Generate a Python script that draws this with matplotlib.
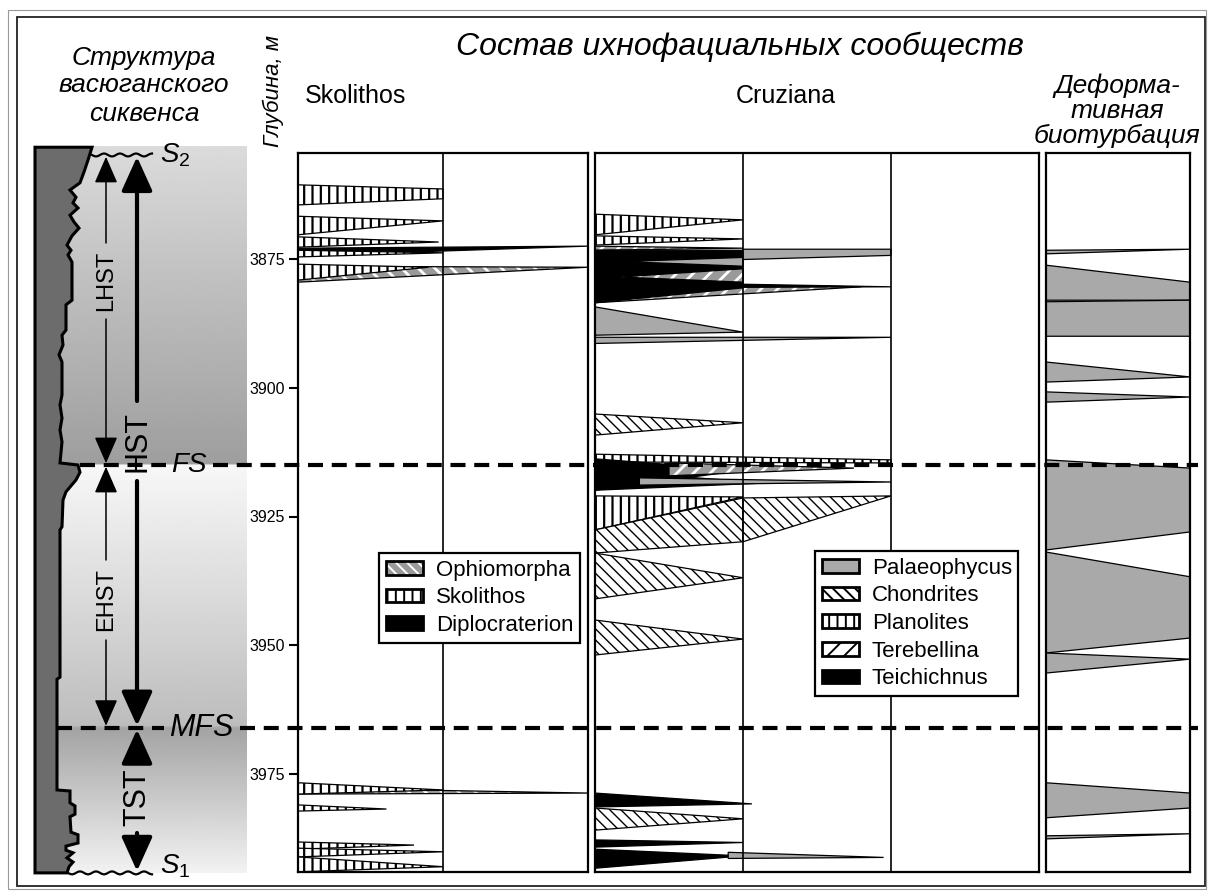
import numpy as np
import matplotlib
matplotlib.use('Agg')
import matplotlib.pyplot as plt
from matplotlib.patches import Polygon, Patch, Rectangle
from matplotlib.legend_handler import HandlerTuple
from matplotlib import font_manager

plt.rcParams['font.family'] = ['Liberation Sans', 'DejaVu Sans']
plt.rcParams['hatch.linewidth'] = 1.4
plt.rcParams['mathtext.fontset'] = 'custom'
plt.rcParams['mathtext.it'] = 'Liberation Sans:italic'
plt.rcParams['mathtext.rm'] = 'Liberation Sans'

# ---------------- data ----------------
depth_ticks = [3875, 3900, 3925, 3950, 3975]
surface_names = ['S2', 'FS', 'MFS', 'S1']
surface_depths = [3854.8, 3915.0, 3966.0, 3994.2]

tract_names = ['LHST', 'EHST', 'HST', 'TST']
tract_tops = [3854.8, 3915.0, 3854.8, 3966.0]
tract_bottoms = [3915.0, 3966.0, 3966.0, 3994.2]

# lithology (grain-size) curve of the sequence
log_depth = [3853.3, 3855.8, 3858.1, 3860.2, 3861.6, 3863.0, 3864.1, 3865.1, 3866.5, 3867.8,
             3869.0, 3870.5, 3872.3, 3873.3, 3874.2, 3875.6, 3883.0, 3883.9, 3888.8, 3889.8,
             3891.7, 3893.6, 3895.0, 3901.4, 3903.3, 3905.9, 3908.2, 3910.5, 3914.6, 3915.0,
             3916.4, 3917.9, 3920.2, 3921.8, 3927.0, 3927.6, 3956.2, 3956.6, 3978.1, 3978.3,
             3980.6, 3981.2, 3982.8, 3983.3, 3986.3, 3986.8, 3988.4, 3989.0, 3989.8, 3990.3,
             3991.3, 3992.1, 3993.0, 3994.2]
log_size = [92, 88, 84, 80, 70, 76, 73, 78, 70, 74,
            79, 72, 67, 71, 68, 72, 72, 66, 66, 62,
            63, 59, 62, 62, 60, 62, 60, 62, 60, 78,
            80, 76, 66, 63, 62, 60, 60, 57, 57, 70,
            70, 75, 75, 70, 71, 78, 78, 66, 66, 73,
            67, 73, 69, 67]

# Skolithos ichnofacies: wedge = (taxon, x0, top0, bottom0, x1, top1, bottom1)
sk_taxon = ['Skolithos', 'Skolithos', 'Skolithos', 'Diplocraterion', 'Skolithos', 'Ophiomorpha',
            'Skolithos', 'Ophiomorpha', 'Skolithos', 'Skolithos', 'Skolithos', 'Skolithos', 'Skolithos']
sk_x0 = [0, 0, 0, 0, 0, 0, 0, 0, 0, 0, 0, 0, 0]
sk_top0 = [3860.6, 3866.7, 3870.7, 3872.9, 3873.3, 3876.4, 3876.0, 3977.7, 3976.7, 3981.0, 3988.2, 3989.4, 3991.1]
sk_bot0 = [3864.5, 3870.3, 3872.7, 3874.4, 3874.6, 3879.5, 3879.1, 3978.9, 3978.9, 3982.2, 3989.6, 3991.1, 3994.0]
sk_x1 = [1.0, 1.0, 0.97, 2.0, 1.0, 2.0, 0.9, 2.0, 1.0, 0.61, 0.8, 1.0, 1.0]
sk_top1 = [3861.4, 3867.6, 3871.7, 3872.5, 3873.8, 3876.6, 3876.6, 3978.7, 3978.1, 3981.8, 3988.8, 3990.1, 3993.0]
sk_bot1 = [3863.3, 3867.6, 3871.7, 3872.5, 3873.8, 3876.6, 3876.6, 3978.7, 3978.1, 3981.8, 3988.8, 3990.1, 3993.0]

# Cruziana ichnofacies
cr_taxon = ['Planolites', 'Planolites', 'Terebellina', 'Terebellina', 'Teichichnus', 'Teichichnus',
            'Palaeophycus', 'Palaeophycus', 'Terebellina', 'Palaeophycus', 'Palaeophycus', 'Chondrites',
            'Planolites', 'Teichichnus', 'Teichichnus', 'Terebellina', 'Palaeophycus', 'Planolites',
            'Chondrites', 'Chondrites', 'Chondrites', 'Chondrites', 'Teichichnus', 'Chondrites',
            'Teichichnus', 'Teichichnus', 'Palaeophycus']
cr_x0 = [0, 0, 0, 0, 0, 0, 0.19, 1.0, 0.17, 0, 0, 0,
         0, 0, 0, 0.5, 0.3, 0, 0, 1.0, 0, 0, 0, 0, 0, 0, 0.9]
cr_top0 = [3866.3, 3870.5, 3872.5, 3879.7, 3873.3, 3879.4, 3875.5, 3873.1, 3878.5, 3884.3, 3890.2, 3905.1,
           3912.9, 3913.8, 3916.0, 3914.6, 3917.5, 3921.0, 3927.6, 3921.4, 3932.1, 3945.1, 3978.7, 3981.6,
           3987.8, 3989.6, 3990.2]
cr_bot0 = [3870.3, 3872.3, 3873.3, 3883.5, 3883.5, 3880.6, 3875.5, 3875.1, 3878.5, 3889.8, 3891.4, 3909.2,
           3914.4, 3919.9, 3919.9, 3917.1, 3918.9, 3927.6, 3932.1, 3929.9, 3941.0, 3951.9, 3981.4, 3985.9,
           3989.2, 3993.3, 3991.4]
cr_x1 = [1.0, 1.0, 1.0, 1.8, 1.0, 2.0, 1.0, 2.0, 1.0, 1.0, 2.0, 1.0,
         2.0, 1.0, 1.15, 1.75, 2.0, 1.0, 1.0, 2.0, 1.0, 1.0, 1.06, 1.0, 1.0, 1.0, 1.95]
cr_top1 = [3867.4, 3871.1, 3872.9, 3880.4, 3873.3, 3880.4, 3874.7, 3873.1, 3876.9, 3889.2, 3890.2, 3906.8,
           3914.0, 3916.0, 3918.5, 3915.6, 3918.3, 3921.2, 3921.4, 3921.0, 3936.9, 3948.8, 3980.8, 3983.7,
           3988.3, 3990.9, 3991.2]
cr_bot1 = [3867.4, 3871.1, 3872.9, 3880.4, 3880.6, 3880.4, 3876.4, 3874.3, 3879.5, 3889.2, 3890.2, 3906.8,
           3914.6, 3916.0, 3918.5, 3915.6, 3918.3, 3921.2, 3929.9, 3921.0, 3936.9, 3948.8, 3980.8, 3983.7,
           3988.3, 3990.9, 3991.2]

# deformational bioturbation
df_taxon = ['Palaeophycus'] * 10
df_x0 = [0, 0, 0, 0, 0, 0, 0, 0, 0, 0]
df_top0 = [3873.3, 3876.2, 3883.3, 3895.0, 3900.8, 3914.0, 3931.9, 3951.5, 3976.7, 3987.0]
df_bot0 = [3874.0, 3883.0, 3890.0, 3898.9, 3902.8, 3931.5, 3951.5, 3955.4, 3983.5, 3987.6]
df_x1 = [1.0, 1.0, 1.0, 1.0, 1.0, 1.0, 1.0, 1.0, 1.0, 1.0]
df_top1 = [3873.1, 3879.5, 3883.0, 3897.9, 3901.8, 3915.6, 3936.7, 3952.7, 3978.7, 3986.6]
df_bot1 = [3873.1, 3883.0, 3890.0, 3897.9, 3901.8, 3928.0, 3948.6, 3952.7, 3981.6, 3986.6]

legend1_labels = ['Ophiomorpha', 'Skolithos', 'Diplocraterion']
legend2_labels = ['Palaeophycus', 'Chondrites', 'Planolites', 'Terebellina', 'Teichichnus']

# ---------------- layout helpers ----------------
W, H = 1208, 891
D_REF, Y_REF, PX_PER_M = 3875.0, 259.0, 5.15


def px_rect(x0, y0, x1, y1):
    return [x0 / W, 1 - y1 / H, (x1 - x0) / W, (y1 - y0) / H]


def dpx(y):
    return D_REF + (y - Y_REF) / PX_PER_M


def fx(x):
    return x / W


def fy(y):
    return 1 - y / H


try:
    font_manager.findfont('Liberation Sans Narrow', fallback_to_default=False)
    NARROW = ['Liberation Sans Narrow', 'Liberation Sans']
    big_size = 27
except Exception:
    NARROW = ['Liberation Sans', 'DejaVu Sans']
    big_size = 22

STYLE = {
    'Skolithos': dict(fc='white', hc='black', hatch='||', hlw=1.6),
    'Planolites': dict(fc='white', hc='black', hatch='||', hlw=1.6),
    'Chondrites': dict(fc='white', hc='black', hatch='\\\\\\', hlw=1.0),
    'Palaeophycus': dict(fc='#a9a9a9'),
    'Teichichnus': dict(fc='black'),
    'Diplocraterion': dict(fc='black'),
    'Ophiomorpha': dict(fc='#9a9a9a', hc='white', hatch='\\\\', hlw=2.0),
    'Terebellina': dict(fc='#9a9a9a', hc='white', hatch='//', hlw=2.0),
}

fig = plt.figure(figsize=(W / 100, H / 100), dpi=100)
fig.patch.set_facecolor('white')

# ---------------- structure column ----------------
ax_s = fig.add_axes(px_rect(20, 140, 297, 880))
ax_s.axis('off')

grad_depth = [3853.3, 3880, 3914.9, 3915.1, 3940, 3965.8, 3966.1, 3994.3]
grad_val = [0.86, 0.75, 0.62, 0.97, 0.86, 0.74, 0.64, 0.95]
dgrid = np.linspace(dpx(147), dpx(873), 500)
shade = np.interp(dgrid, grad_depth, grad_val)
ax_s.imshow(np.repeat(shade[:, None], 2, axis=1), extent=(35, 247, dpx(873), dpx(147)),
            cmap='gray', vmin=0, vmax=1, aspect='auto', origin='upper',
            interpolation='bilinear', zorder=0)

log_verts = [(35, log_depth[0])] + list(zip(log_size, log_depth)) + [(35, log_depth[-1])]
ax_s.add_patch(Polygon(log_verts, closed=True, facecolor='#6c6c6c', edgecolor='black',
                       lw=2.2, joinstyle='miter', zorder=2))
ax_s.set_xlim(20, 297)
ax_s.set_ylim(dpx(880), dpx(140))

# unconformity wavy lines
for d, xs0 in [(surface_depths[0], 92), (surface_depths[3], 68)]:
    xs = np.linspace(xs0, 152, 80)
    ax_s.plot(xs, d + 0.28 * np.sin((xs - xs0) / 16.0 * 2 * np.pi), color='black', lw=1.6, zorder=4)

# systems tract arrows
tract_x = [106, 106, 137, 137]
tract_label_y = [281, 600, 441, 797]       # px centre of the labels
tract_gap = [38, 40, 40, 36]               # px half gap around labels
for i, name in enumerate(tract_names):
    thick = name in ('HST', 'TST')
    lw = 3.0 if thick else 1.1
    style = ('-|>,head_length=2.1,head_width=0.95' if thick
             else '-|>,head_length=1.65,head_width=0.72')
    dc = dpx(tract_label_y[i])
    g = tract_gap[i] / PX_PER_M
    eps = 0.35
    for a, b in [(dc - g, tract_tops[i] + eps), (dc + g, tract_bottoms[i] - eps)]:
        ax_s.annotate('', xy=(tract_x[i], b), xytext=(tract_x[i], a),
                      arrowprops=dict(arrowstyle=style, lw=lw, color='black',
                                      mutation_scale=10, shrinkA=0, shrinkB=0),
                      zorder=5)
    if thick:
        ax_s.text(tract_x[i], dc, name, rotation=90, ha='center', va='center',
                  fontsize=big_size, family=NARROW, zorder=6)
    else:
        ax_s.text(tract_x[i], dc, name, rotation=90, ha='center', va='center',
                  fontsize=17, zorder=6)

# surface labels
ax_s.text(160, surface_depths[0], r'$S_2$', fontsize=20, ha='left', va='center', zorder=6)
ax_s.text(160, surface_depths[3] - 1.2, r'$S_1$', fontsize=20, ha='left', va='center', zorder=6)
ax_s.text(189, surface_depths[1], 'FS', fontsize=20, style='italic', ha='center', va='center', zorder=6)
ax_s.text(201, surface_depths[2], 'MFS', fontsize=22, style='italic', ha='center', va='center', zorder=6)

# ---------------- ichnofacies panels ----------------
ax_sk = fig.add_axes(px_rect(298, 153, 588, 872))
ax_cr = fig.add_axes(px_rect(595, 153, 1039, 872))
ax_df = fig.add_axes(px_rect(1046, 153, 1190, 872))


def add_wedges(ax, taxa, x0, t0, b0, x1, t1, b1):
    for i, tx in enumerate(taxa):
        verts = [(x0[i], t0[i]), (x1[i], t1[i]), (x1[i], b1[i]), (x0[i], b0[i])]
        st = STYLE[tx]
        p = Polygon(verts, closed=True, facecolor=st['fc'], edgecolor=st.get('hc', 'none'),
                    hatch=st.get('hatch'), lw=0, zorder=2 + i * 0.01)
        if 'hlw' in st and hasattr(p, 'set_hatch_linewidth'):
            p.set_hatch_linewidth(st['hlw'])
        ax.add_patch(p)
        ax.add_patch(Polygon(verts, closed=True, fill=False, edgecolor='black', lw=0.9,
                             zorder=2 + i * 0.01 + 0.005))


add_wedges(ax_sk, sk_taxon, sk_x0, sk_top0, sk_bot0, sk_x1, sk_top1, sk_bot1)
add_wedges(ax_cr, cr_taxon, cr_x0, cr_top0, cr_bot0, cr_x1, cr_top1, cr_bot1)
add_wedges(ax_df, df_taxon, df_x0, df_top0, df_bot0, df_x1, df_top1, df_bot1)

for ax, ncol in [(ax_sk, 2), (ax_cr, 3), (ax_df, 1)]:
    ax.set_xlim(0, ncol)
    ax.set_ylim(dpx(872), dpx(153))
    ax.set_xticks([])
    for k in range(1, ncol):
        ax.axvline(k, color='black', lw=1.2, zorder=10)
    for sp in ax.spines.values():
        sp.set_linewidth(1.6)
        sp.set_zorder(11)
    ax.set_yticks([])

ax_sk.set_yticks(depth_ticks)
ax_sk.set_yticklabels([str(t) for t in depth_ticks])
ax_sk.tick_params(axis='y', direction='out', length=6.5, width=1.5, labelsize=11.5, pad=3)

# ---------------- dashed surfaces (overlay) ----------------
ax_ov = fig.add_axes(px_rect(20, 140, 1203, 880), facecolor='none', zorder=20)
ax_ov.set_xlim(20, 1203)
ax_ov.set_ylim(dpx(880), dpx(140))
ax_ov.axis('off')
for d, segs in [(surface_depths[1], [(80, 166), (213, 1198)]),
                (surface_depths[2], [(57, 164), (240, 1198)])]:
    for a, b in segs:
        ax_ov.plot([a, b], [d, d], color='black', lw=3.0, dashes=[3.6, 2.1],
                   solid_capstyle='butt', dash_capstyle='butt')

# ---------------- legends ----------------
oph_handle = (Patch(facecolor='#9a9a9a', edgecolor='white', hatch='\\\\\\', lw=0),
              Patch(facecolor='none', edgecolor='black', lw=2.0))
h1 = [oph_handle,
      Patch(facecolor='white', edgecolor='black', hatch='||', lw=2.0),
      Patch(facecolor='black', edgecolor='black', lw=2.0)]
h2 = [Patch(facecolor='#a9a9a9', edgecolor='black', lw=2.0),
      Patch(facecolor='white', edgecolor='black', hatch='\\\\\\', lw=2.0),
      Patch(facecolor='white', edgecolor='black', hatch='||', lw=2.0),
      Patch(facecolor='white', edgecolor='black', hatch='//', lw=2.0),
      Patch(facecolor='black', edgecolor='black', lw=2.0)]
leg_kw = dict(loc='upper left', fontsize=16, handlelength=1.7, handleheight=0.55,
              handletextpad=0.55, labelspacing=0.3, borderpad=0.3, borderaxespad=0,
              fancybox=False, framealpha=1, edgecolor='black',
              handler_map={tuple: HandlerTuple(ndivide=1, pad=0)})
leg1 = fig.legend(h1, legend1_labels, bbox_to_anchor=(fx(379), fy(553)), **leg_kw)
leg2 = fig.legend(h2, legend2_labels, bbox_to_anchor=(fx(815), fy(551)), **leg_kw)
for lg in (leg1, leg2):
    lg.get_frame().set_linewidth(1.6)
    lg.set_zorder(30)

# ---------------- header texts ----------------
fig.text(fx(740), fy(47), 'Состав ихнофациальных сообществ', fontsize=23, style='italic',
         ha='center', va='center')
for txt, yb in [('Структура', 65), ('васюганского', 92), ('сиквенса', 121)]:
    fig.text(fx(144), fy(yb), txt, fontsize=19, style='italic', ha='center', va='baseline')
fig.text(fx(273), fy(91), 'Глубина, м', fontsize=16, style='italic', rotation=90,
         ha='center', va='center')
fig.text(fx(356), fy(96), 'Skolithos', fontsize=18, ha='center', va='center')
fig.text(fx(786), fy(96), 'Cruziana', fontsize=18, ha='center', va='center')
for txt, yb in [('Деформа-', 93), ('тивная', 118), ('биотурбация', 143)]:
    fig.text(fx(1117), fy(yb), txt, fontsize=19, style='italic', ha='center', va='baseline')

# ---------------- page frame ----------------
fig.add_artist(Rectangle((fx(17), fy(886)), (1205 - 17) / W, (886 - 17) / H,
                         transform=fig.transFigure, fill=False, ec='#222222', lw=1.3))
fig.add_artist(Rectangle((fx(8), fy(889)), (1206 - 8) / W, (889 - 10) / H,
                         transform=fig.transFigure, fill=False, ec='#999999', lw=0.8))

fig.savefig('out.png', dpi=100)
